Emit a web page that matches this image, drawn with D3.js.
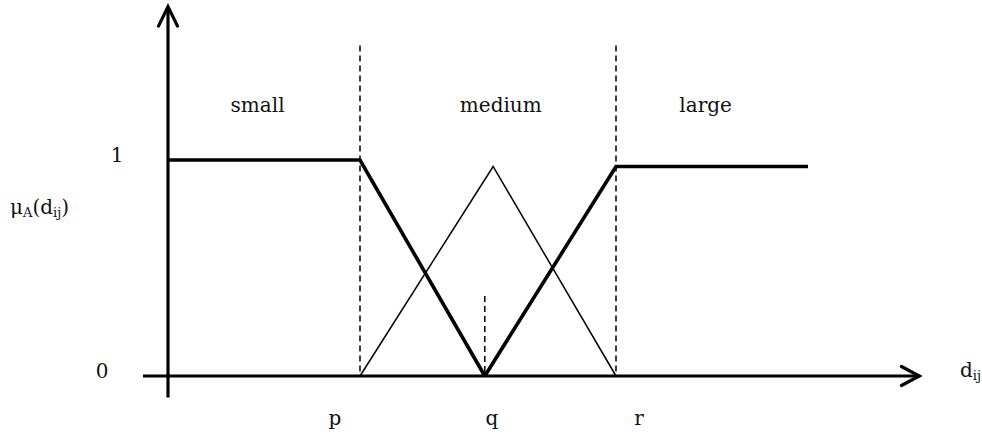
<!DOCTYPE html>
<html>
<head>
<meta charset="utf-8">
<script src="https://cdn.jsdelivr.net/npm/d3@7"></script>
<style>
  html, body { margin: 0; padding: 0; background: #fff; }
  svg { display: block; }
  text { font-family: "DejaVu Serif", "Liberation Serif", serif; fill: #111; }
</style>
</head>
<body>
<svg id="chart" width="982" height="439"></svg>
<script>
// ---- data ----
const breakpointNames = ["p", "q", "r"];
const breakpointValues = [3, 4.95, 7];
const regionNames = ["small", "medium", "large"];
const regionCenters = [1.4, 5.2, 8.4];

const smallX = [0, 3, 4.95];
const smallY = [1, 1, 0];
const mediumX = [3, 5.08, 7];
const mediumY = [0, 0.97, 0];
const largeX = [4.95, 7, 10];
const largeY = [0, 0.97, 0.97];

const yTickLabels = ["0", "1"];
const yTickValues = [0, 1];

// ---- layout ----
const svg = d3.select("#chart");
const x = d3.scaleLinear().domain([0, 10]).range([168, 808]);
const y = d3.scaleLinear().domain([0, 1]).range([376, 160]);

const line = d3.line().x(d => x(d[0])).y(d => y(d[1]));
const zip = (a, b) => a.map((v, i) => [v, b[i]]);

// dashed verticals at p and r (tall) and q (short)
const dashTop = { p: 1.53, q: 0.37, r: 1.53 };
svg.selectAll("line.guide")
  .data(breakpointNames.map((n, i) => ({ n, v: breakpointValues[i] })))
  .join("line")
  .attr("class", "guide")
  .attr("x1", d => x(d.v)).attr("x2", d => x(d.v))
  .attr("y1", d => y(dashTop[d.n])).attr("y2", y(0))
  .attr("stroke", "#000").attr("stroke-width", 1.5)
  .attr("stroke-dasharray", "6,4");

// axes
const axisW = 3.2;
svg.append("line")
  .attr("x1", x(-0.39)).attr("x2", x(11.74))
  .attr("y1", y(0)).attr("y2", y(0))
  .attr("stroke", "#000").attr("stroke-width", axisW);
svg.append("polyline")
  .attr("points", [[x(11.46), y(0) - 9.5], [x(11.74), y(0)], [x(11.46), y(0) + 9.5]].join(" "))
  .attr("fill", "none").attr("stroke", "#000").attr("stroke-width", axisW)
  .attr("stroke-linecap", "round").attr("stroke-linejoin", "miter");

svg.append("line")
  .attr("x1", x(0)).attr("x2", x(0))
  .attr("y1", y(-0.10)).attr("y2", y(1.71))
  .attr("stroke", "#000").attr("stroke-width", axisW);
svg.append("polyline")
  .attr("points", [[x(0) - 9.5, y(1.62)], [x(0), y(1.71)], [x(0) + 9.5, y(1.62)]].join(" "))
  .attr("fill", "none").attr("stroke", "#000").attr("stroke-width", axisW)
  .attr("stroke-linecap", "round").attr("stroke-linejoin", "miter");

// membership functions
svg.append("path").datum(zip(mediumX, mediumY))
  .attr("d", line).attr("fill", "none").attr("stroke", "#000").attr("stroke-width", 1.5);
svg.append("path").datum(zip(smallX, smallY))
  .attr("d", line).attr("fill", "none").attr("stroke", "#000").attr("stroke-width", 3.6)
  .attr("stroke-linejoin", "miter");
svg.append("path").datum(zip(largeX, largeY))
  .attr("d", line).attr("fill", "none").attr("stroke", "#000").attr("stroke-width", 3.6)
  .attr("stroke-linejoin", "miter");

// region names
svg.selectAll("text.region")
  .data(regionNames.map((n, i) => ({ n, c: regionCenters[i] })))
  .join("text")
  .attr("class", "region")
  .attr("x", d => x(d.c)).attr("y", 112)
  .attr("text-anchor", "middle").attr("font-size", 20)
  .text(d => d.n);

// breakpoint labels
const bpOffset = { p: -25, q: 7, r: 23 };
svg.selectAll("text.bp")
  .data(breakpointNames.map((n, i) => ({ n, v: breakpointValues[i] })))
  .join("text")
  .attr("class", "bp")
  .attr("x", d => x(d.v) + bpOffset[d.n]).attr("y", 425)
  .attr("text-anchor", "middle").attr("font-size", 20)
  .text(d => d.n);

// y tick labels
const yLabX = { "0": 102, "1": 117 };
svg.selectAll("text.ytick")
  .data(yTickValues.map((v, i) => ({ v, l: yTickLabels[i] })))
  .join("text")
  .attr("class", "ytick")
  .attr("x", d => yLabX[d.l]).attr("y", d => y(d.v) + 2)
  .attr("text-anchor", "middle").attr("font-size", 20)
  .text(d => d.l);

// y axis title: μA(dij)
const yt = svg.append("text").attr("x", 10).attr("y", 214).attr("font-size", 20);
yt.append("tspan").text("μ");
yt.append("tspan").attr("font-size", 13).attr("dy", 3).text("A");
yt.append("tspan").attr("dy", -3).text("(d");
yt.append("tspan").attr("font-size", 13).attr("dy", 3).text("ij");
yt.append("tspan").attr("dy", -3).text(")");

// x axis title: dij
const xt = svg.append("text").attr("x", 960).attr("y", 377).attr("font-size", 20);
xt.append("tspan").text("d");
xt.append("tspan").attr("font-size", 13).attr("dy", 3).text("ij");
</script>
</body>
</html>
